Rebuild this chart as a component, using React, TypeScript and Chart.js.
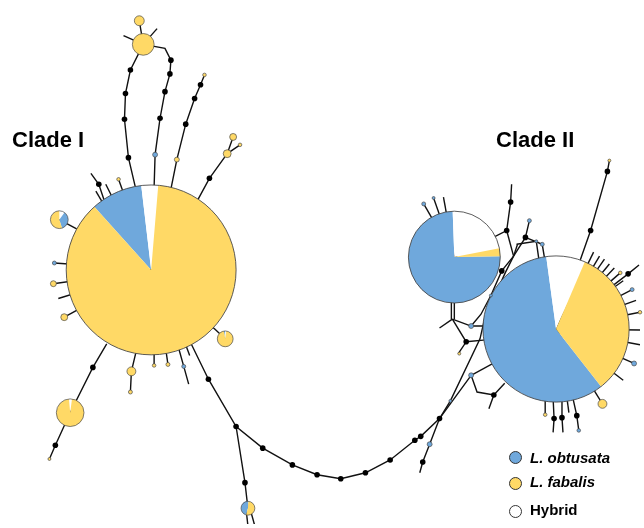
import React, { useEffect, useRef } from "react";
import { Chart, registerables } from "chart.js";
Chart.register(...registerables);

// ---------- data ----------
const seriesNames = ["L. obtusata", "L. fabalis", "Hybrid"];
const seriesColors = ["#6FA8DC", "#FFD966", "#FFFFFF"];
const cladeNames = ["Clade I", "Clade II"];

type Hap = { x: number; y: number; r: number; obt: number; fab: number; hyb: number; start: number; order: string };
const H = (x: number, y: number, r: number, obt: number, fab: number, hyb: number, start = 0, order = "ohf"): Hap => ({ x, y, r, obt, fab, hyb, start, order });

// haplotypes of clade I (x, y, radius, share obtusata, share fabalis, share hybrid)
const cladeIHaplotypes: Hap[] = [
  H(149, 270, 86, 0.098, 0.87, 0.032, 318, "ohf"),
  H(141, 41, 11, 0, 1, 0),
  H(137, 17, 5, 0, 1, 0),
  H(56, 219, 9, 0.35, 0.55, 0.1, 0, "hof"),
  H(224, 340, 8, 0.03, 0.95, 0.02, -10, "ohf"),
  H(67, 415, 14, 0, 0.965, 0.035, -5, "hfo"),
  H(247, 512, 7, 0.47, 0.53, 0, 195, "ofh"),
  H(153, 153, 2.5, 1, 0, 0),
  H(175, 158, 2.5, 0, 1, 0),
  H(203, 72, 1.8, 0, 1, 0),
  H(232, 135, 3.5, 0, 1, 0),
  H(226, 152, 4, 0, 1, 0),
  H(239, 143, 1.8, 0, 1, 0),
  H(116, 178, 1.8, 0, 1, 0),
  H(51, 263, 2, 1, 0, 0),
  H(50, 284, 3, 0, 1, 0),
  H(61, 318, 3.5, 0, 1, 0),
  H(129, 373, 4.5, 0, 1, 0),
  H(128, 394, 2, 0, 1, 0),
  H(152, 367, 1.8, 0, 1, 0),
  H(166, 366, 2, 0, 1, 0),
  H(182, 368, 2, 1, 0, 0),
  H(46, 462, 1.5, 0, 1, 0),
];

const cladeIIHaplotypes: Hap[] = [
  H(559, 330, 74, 0.584, 0.33, 0.086, 142, "ohf"),
  H(456, 257, 46.5, 0.747, 0.028, 0.225, 89, "ohf"),
  H(425, 203, 2, 1, 0, 0),
  H(435, 197, 1.5, 1, 0, 0),
  H(532, 220, 2, 1, 0, 0),
  H(539, 241, 1.5, 1, 0, 0),
  H(545, 244, 2, 1, 0, 0),
  H(473, 377, 2.5, 1, 0, 0),
  H(452, 403, 1.5, 1, 0, 0),
  H(431, 447, 2.5, 1, 0, 0),
  H(473, 327, 2.5, 1, 0, 0),
  H(493, 296, 1.5, 1, 0, 0),
  H(461, 355, 1.5, 0, 1, 0),
  H(624, 273, 1.8, 0, 1, 0),
  H(636, 290, 2, 1, 0, 0),
  H(644, 313, 1.8, 0, 1, 0),
  H(638, 365, 2.5, 1, 0, 0),
  H(606, 406, 4.5, 0, 1, 0),
  H(548, 417, 1.8, 0, 1, 0),
  H(582, 433, 1.8, 1, 0, 0),
  H(613, 159, 1.5, 0, 1, 0),
];

// edges (polylines of connected haplotypes / median vectors)
const cladeIEdges: number[][][] = [
  [[137, 17], [141, 41]],
  [[141, 41], [121, 32]],
  [[141, 41], [155, 25]],
  [[141, 41], [128, 67], [123, 91], [122, 117], [126, 156], [133, 186]],
  [[141, 41], [163, 45], [169, 57], [168, 71], [163, 89], [158, 116], [153, 153], [152, 186]],
  [[203, 72], [199, 82], [193, 96], [184, 122], [175, 158], [169, 188]],
  [[232, 135], [226, 152]],
  [[239, 143], [226, 152]],
  [[226, 152], [208, 177], [194, 203]],
  [[88, 172], [96, 183], [102, 201]],
  [[93, 190], [100, 202]],
  [[103, 183], [110, 197]],
  [[116, 178], [121, 192]],
  [[56, 219], [75, 229]],
  [[51, 263], [149, 270]],
  [[50, 284], [149, 270]],
  [[55, 299], [149, 270]],
  [[61, 318], [149, 270]],
  [[224, 340], [149, 270]],
  [[104, 345], [90, 369], [67, 415], [52, 448], [46, 462]],
  [[134, 352], [129, 373], [128, 394]],
  [[152, 352], [152, 367]],
  [[164, 352], [166, 366]],
  [[177, 350], [182, 368], [187, 386]],
  [[184, 346], [188, 357]],
  [[189, 344], [207, 381], [235, 429], [262, 451], [292, 468], [317, 478], [341, 482], [366, 476], [391, 463], [416, 443], [422, 439], [441, 421], [473, 377]],
  [[235, 429], [244, 486], [247, 512]],
  [[245, 512], [247, 530]],
  [[249, 512], [254, 530]],
];

const cladeIIEdges: number[][][] = [
  [[441, 421], [452, 403], [482, 340], [487, 318], [497, 296], [508, 272], [516, 256]],
  [[441, 421], [431, 447], [424, 465], [421, 476]],
  [[473, 377], [559, 330]],
  [[473, 377], [479, 394], [496, 397], [507, 385]],
  [[496, 397], [491, 411]],
  [[453, 300], [453, 320]],
  [[456, 300], [456, 320]],
  [[454, 320], [441, 329]],
  [[454, 320], [473, 327], [488, 327]],
  [[454, 320], [468, 343], [460, 355]],
  [[468, 343], [488, 341]],
  [[473, 327], [483, 315], [493, 296], [504, 271], [516, 256]],
  [[456, 257], [509, 230], [513, 201], [514, 183]],
  [[509, 230], [516, 256]],
  [[516, 256], [528, 237], [532, 220]],
  [[528, 237], [545, 244], [548, 262]],
  [[519, 244], [539, 241], [542, 262]],
  [[516, 256], [520, 244]],
  [[425, 203], [456, 257]],
  [[435, 197], [456, 257]],
  [[445, 196], [456, 257]],
  [[559, 330], [594, 230], [611, 170], [613, 159]],
  [[559, 330], [597, 252]],
  [[559, 330], [603, 256]],
  [[559, 330], [608, 259]],
  [[559, 330], [613, 264]],
  [[559, 330], [618, 268]],
  [[559, 330], [624, 273]],
  [[559, 330], [632, 274], [643, 265]],
  [[559, 330], [627, 281]],
  [[559, 330], [636, 290]],
  [[559, 330], [640, 301]],
  [[559, 330], [644, 313]],
  [[559, 330], [644, 331]],
  [[559, 330], [644, 346]],
  [[559, 330], [638, 365]],
  [[559, 330], [627, 382]],
  [[559, 330], [606, 406]],
  [[548, 400], [548, 417]],
  [[556, 400], [557, 421], [556, 435]],
  [[565, 400], [565, 420], [566, 435]],
  [[570, 400], [572, 415]],
  [[576, 400], [580, 418], [582, 433]],
];

// median vectors (unsampled haplotypes)
const medianVectors: number[][] = [
  [128, 67], [123, 91], [122, 117], [126, 156], [169, 57], [168, 71], [163, 89], [158, 116],
  [199, 82], [193, 96], [184, 122], [208, 177], [96, 183], [90, 369], [52, 448], [207, 381],
  [235, 429], [244, 486], [262, 451], [292, 468], [317, 478], [341, 482], [366, 476], [391, 463],
  [416, 443], [422, 439], [441, 421], [424, 465], [496, 397], [468, 343], [509, 230], [513, 201],
  [528, 237], [504, 271], [594, 230], [611, 170], [632, 274], [557, 421], [565, 420], [580, 418],
];

// ---------- drawing ----------
const keyIndex: Record<string, number> = { o: 0, f: 1, h: 2 };

const piePlugin = {
  id: "haplotypePies",
  afterDatasetsDraw(chart: any) {
    const { ctx } = chart;
    const xs = chart.scales.x;
    const ys = chart.scales.y;
    const all = [...cladeIHaplotypes, ...cladeIIHaplotypes];
    all.forEach((h) => {
      const cx = xs.getPixelForValue(h.x);
      const cy = ys.getPixelForValue(h.y);
      const r = Math.abs(xs.getPixelForValue(h.r) - xs.getPixelForValue(0));
      const shares = [h.obt, h.fab, h.hyb];
      let a = ((h.start - 90) * Math.PI) / 180;
      ctx.save();
      h.order.split("").forEach((k) => {
        const i = keyIndex[k];
        const f = shares[i];
        if (f <= 0) return;
        const b = a + f * Math.PI * 2;
        ctx.beginPath();
        if (f < 0.9999) ctx.moveTo(cx, cy);
        ctx.arc(cx, cy, r, a, b);
        ctx.closePath();
        ctx.fillStyle = seriesColors[i];
        ctx.fill();
        a = b;
      });
      ctx.beginPath();
      ctx.arc(cx, cy, r, 0, Math.PI * 2);
      ctx.lineWidth = r > 20 ? 0.9 : 0.7;
      ctx.strokeStyle = "#4a4a4a";
      ctx.stroke();
      ctx.restore();
    });
  },
};

export default function App() {
  const ref = useRef<HTMLCanvasElement | null>(null);
  useEffect(() => {
    if (!ref.current) return;
    const edgeSets = [...cladeIEdges, ...cladeIIEdges].map((e) => ({
      data: e.map(([x, y]) => ({ x, y })),
      showLine: true,
      borderColor: "#111111",
      borderWidth: 1.4,
      pointRadius: 0,
      tension: 0,
      order: 2,
    }));
    const chart = new Chart(ref.current, {
      type: "scatter",
      data: {
        datasets: [
          ...edgeSets,
          {
            data: medianVectors.map(([x, y]) => ({ x, y })),
            pointRadius: 2.8,
            backgroundColor: "#000000",
            borderWidth: 0,
            order: 1,
          },
        ] as any,
      },
      options: {
        responsive: false,
        animation: false,
        events: [],
        layout: { padding: 0 },
        plugins: { legend: { display: false }, tooltip: { enabled: false } },
        scales: {
          x: { type: "linear", min: 0, max: 644, display: false },
          y: { type: "linear", min: 0, max: 528, reverse: true, display: false },
        },
      },
      plugins: [piePlugin],
    });
    return () => chart.destroy();
  }, []);

  const labelFont = "'Liberation Sans', Arial, sans-serif";
  const legendTops = [450.3, 474.3, 502.3];
  const markerCenters = [457, 483, 511];
  return (
    <div style={{ position: "absolute", left: 0, top: 0, width: 644, height: 528, background: "#fff", overflow: "hidden" }}>
      <canvas ref={ref} width={644} height={528} style={{ position: "absolute", left: 0, top: 0 }} />
      {cladeNames.map((n, i) => (
        <div
          key={n}
          style={{
            position: "absolute",
            left: i === 0 ? 12 : 496,
            top: 129.4,
            font: `bold 22px/22px ${labelFont}`,
            color: "#000",
            whiteSpace: "nowrap",
          }}
        >
          {n}
        </div>
      ))}
      {seriesNames.map((n, i) => (
        <React.Fragment key={n}>
          <div
            style={{
              position: "absolute",
              left: 515 - 6.5,
              top: markerCenters[i] - 6.5,
              width: 11,
              height: 11,
              borderRadius: "50%",
              border: "1px solid #333",
              background: seriesColors[i],
            }}
          />
          <div
            style={{
              position: "absolute",
              left: 530,
              top: legendTops[i],
              font: `${i < 2 ? "italic " : ""}bold 15px/15px ${labelFont}`,
              color: "#000",
              whiteSpace: "nowrap",
            }}
          >
            {n}
          </div>
        </React.Fragment>
      ))}
    </div>
  );
}
